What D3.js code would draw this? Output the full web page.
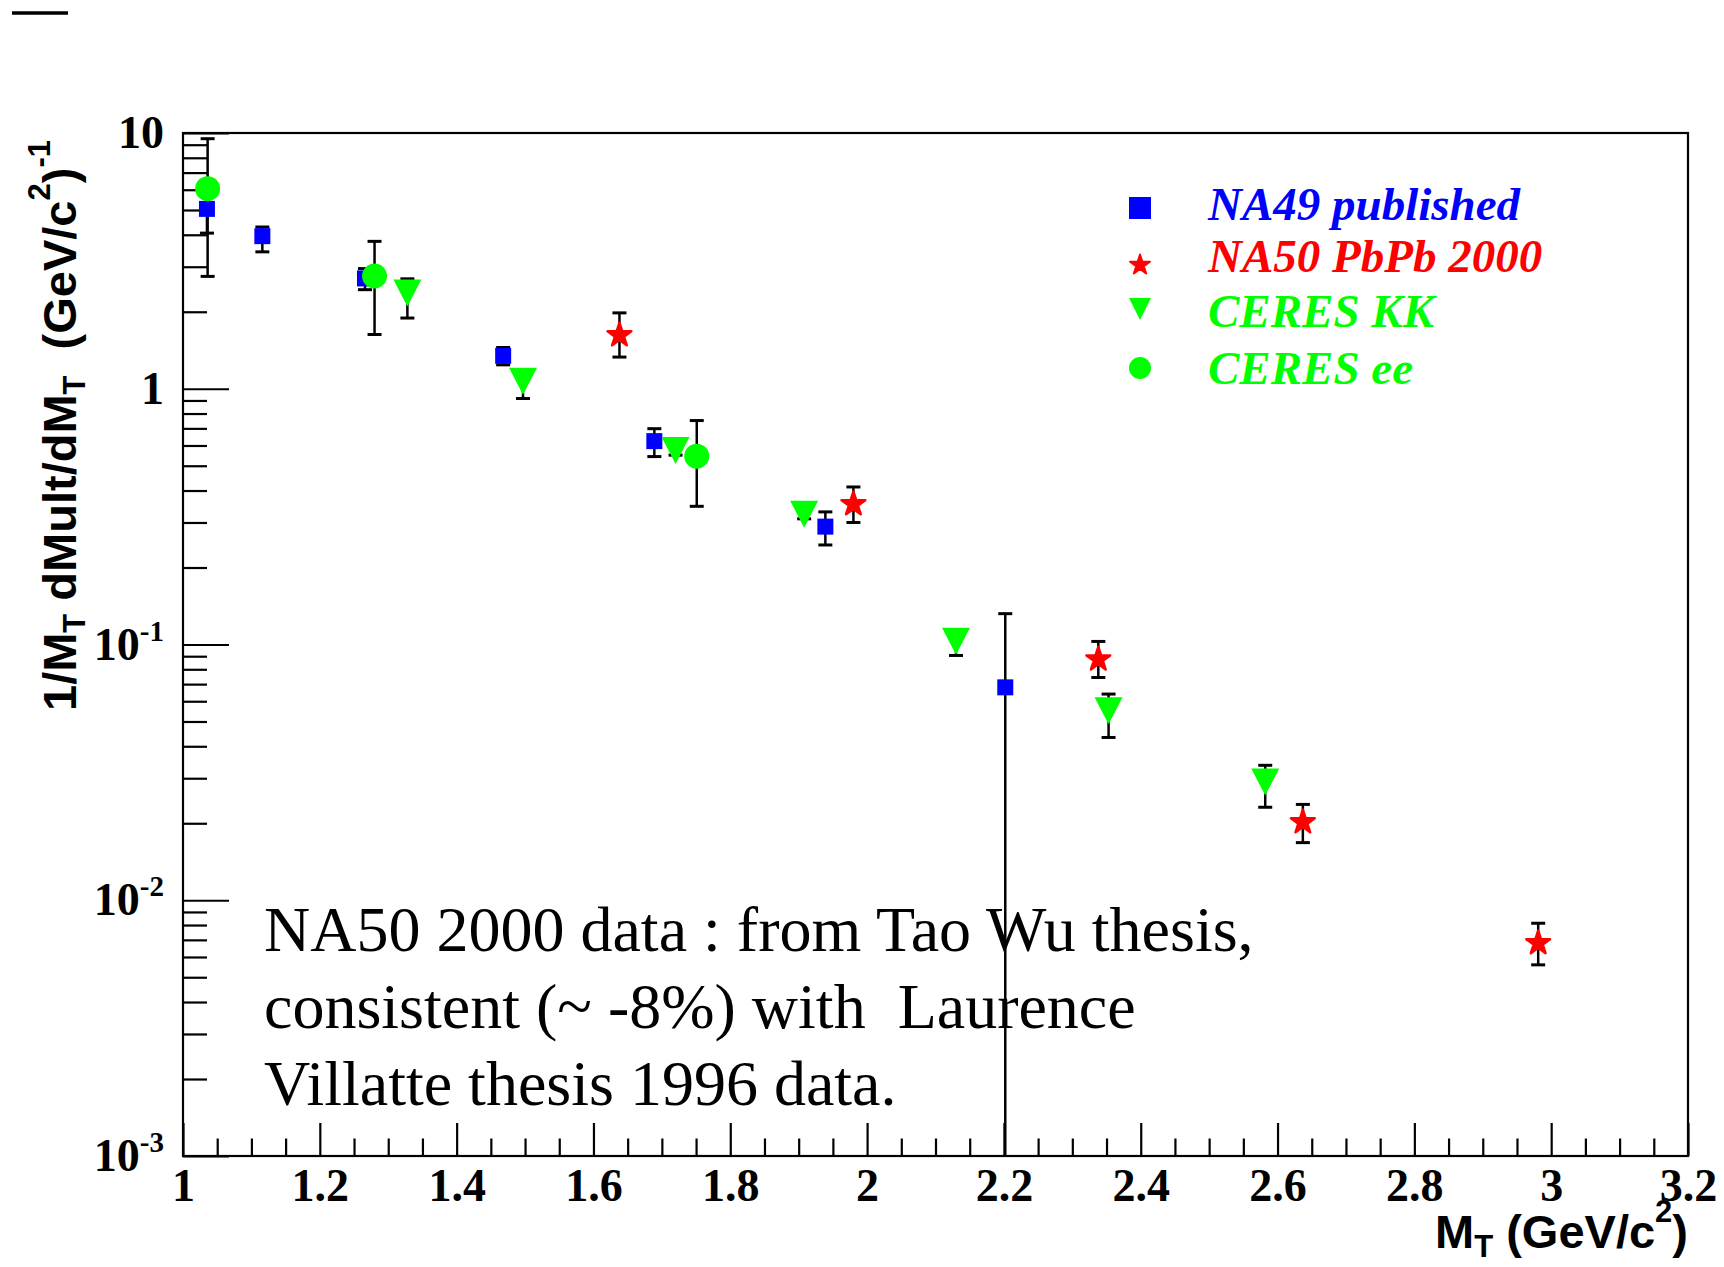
<!DOCTYPE html>
<html><head><meta charset="utf-8">
<script src="https://cdn.jsdelivr.net/npm/d3@7"></script>
<style>body{margin:0;background:#fff} svg{display:block} text{white-space:pre}</style>
</head><body>
<script>
// ---- data ----
const na49X  = [1.035, 1.116, 1.266, 1.468, 1.689, 1.939, 2.202];
const na49Y  = [5.05, 3.95, 2.70, 1.345, 0.624, 0.289, 0.068];
const na49Hi = [6.0, 4.29, 2.95, 1.45, 0.698, 0.330, 0.132];
const na49Lo = [4.06, 3.43, 2.44, 1.24, 0.543, 0.245, 0.0001];

const na50X  = [1.638, 1.980, 2.338, 2.637, 2.981];
const na50Y  = [1.62, 0.354, 0.0875, 0.0202, 0.0068];
const na50Hi = [1.98, 0.413, 0.1028, 0.0237, 0.00813];
const na50Lo = [1.33, 0.300, 0.0743, 0.0168, 0.00559];

const kkX  = [1.328, 1.497, 1.720, 1.908, 2.130, 2.353, 2.582];
const kkY  = [2.37, 1.07, 0.574, 0.323, 0.103, 0.0551, 0.0290];
const kkHi = [2.69, 1.15, 0.60, 0.335, 0.106, 0.0640, 0.0337];
const kkLo = [1.89, 0.916, 0.55, 0.31, 0.0906, 0.0433, 0.0231];

const eeX  = [1.036, 1.280, 1.751];
const eeY  = [6.06, 2.76, 0.545];
const eeHi = [9.5, 3.77, 0.751];
const eeLo = [2.75, 1.63, 0.347];

const xTickValues = [1, 1.2, 1.4, 1.6, 1.8, 2, 2.2, 2.4, 2.6, 2.8, 3, 3.2];
const xTickLabels = ["1","1.2","1.4","1.6","1.8","2","2.2","2.4","2.6","2.8","3","3.2"];
const yTickValues = [0.001, 0.01, 0.1, 1, 10];
const yTickBase   = ["10","10","10","1","10"];
const yTickExp    = ["-3","-2","-1","",""];

const legendLabels = ["NA49 published", "NA50 PbPb 2000", "CERES KK", "CERES ee"];
const noteLines = ["NA50 2000 data : from Tao Wu thesis,",
                   "consistent (~ -8%) with  Laurence",
                   "Villatte thesis 1996 data."];

// ---- drawing ----
const W = 1724, H = 1267;
const L = 183, R = 1688, T = 133, B = 1156;
const svg = d3.select("body").append("svg").attr("width", W).attr("height", H);

const x = d3.scaleLinear().domain([1, 3.2]).range([L, R]);
const y = d3.scaleLog().domain([0.001, 10]).range([B, T]);

const serif = "'Liberation Serif','Times New Roman',serif";
const sans = "'Liberation Sans',Arial,sans-serif";
const BLUE = "#0000ff", RED = "#ff0000", GREEN = "#00ff00";

// top-left stray mark
svg.append("line").attr("x1", 12).attr("x2", 68).attr("y1", 13).attr("y2", 13)
  .attr("stroke", "#000").attr("stroke-width", 3.5);

// axes ticks
const minorX = d3.range(1, 3.2001, 0.05).map(v => +v.toFixed(2))
  .filter(v => !xTickValues.some(t => Math.abs(t - v) < 1e-6));
const gxMin = svg.append("g").attr("transform", `translate(0,${B})`)
  .call(d3.axisBottom(x).tickValues(minorX).tickSize(-17.5).tickFormat(""));
const gxMaj = svg.append("g").attr("transform", `translate(0,${B})`)
  .call(d3.axisBottom(x).tickValues(xTickValues).tickSize(-33)
    .tickFormat((d, i) => xTickLabels[i]).tickPadding(0));
gxMaj.selectAll("text").attr("y", 45).attr("dy", 0)
  .attr("font-family", serif).attr("font-weight", "bold").attr("font-size", 46).attr("fill", "#000");

const minorY = [];
[0.001, 0.01, 0.1, 1].forEach(d => { for (let k = 2; k <= 9; k++) minorY.push(d * k); });
const gyMin = svg.append("g").attr("transform", `translate(${L},0)`)
  .call(d3.axisLeft(y).tickValues(minorY).tickSize(-24).tickFormat(""));
const gyMaj = svg.append("g").attr("transform", `translate(${L},0)`)
  .call(d3.axisLeft(y).tickValues(yTickValues).tickSize(-46).tickFormat(""));

[gxMin, gxMaj, gyMin, gyMaj].forEach(g => {
  g.select(".domain").remove();
  g.selectAll("line").attr("stroke", "#000").attr("stroke-width", 2.2);
});

// y tick labels with exponents
yTickValues.forEach((v, i) => {
  const t = svg.append("text").attr("x", L - 19).attr("y", y(v) + 15)
    .attr("text-anchor", "end").attr("font-family", serif)
    .attr("font-weight", "bold").attr("font-size", 46).attr("fill", "#000");
  t.append("tspan").text(yTickBase[i]);
  if (yTickExp[i]) t.append("tspan").attr("font-size", 29).attr("dy", -19).text(yTickExp[i]);
});

// frame
svg.append("rect").attr("x", L).attr("y", T).attr("width", R - L).attr("height", B - T)
  .attr("fill", "none").attr("stroke", "#000").attr("stroke-width", 2.2);

// axis titles
const xt = svg.append("text").attr("x", R).attr("y", 1248).attr("text-anchor", "end")
  .attr("font-family", sans).attr("font-weight", "bold").attr("font-size", 47).attr("fill", "#000");
xt.append("tspan").text("M");
xt.append("tspan").attr("font-size", 31).attr("dy", 9).text("T");
xt.append("tspan").attr("dy", -9).text(" (GeV/c");
xt.append("tspan").attr("font-size", 31).attr("dy", -26).text("2");
xt.append("tspan").attr("dy", 26).text(")");

const yt = svg.append("text").attr("transform", "translate(76,711) rotate(-90)")
  .attr("font-family", sans).attr("font-weight", "bold").attr("font-size", 47).attr("fill", "#000");
yt.append("tspan").text("1/M");
yt.append("tspan").attr("font-size", 31).attr("dy", 9).text("T");
yt.append("tspan").attr("dy", -9).text(" dMult/dM");
yt.append("tspan").attr("font-size", 31).attr("dy", 9).text("T");
yt.append("tspan").attr("dy", -9).text("  (GeV/c");
yt.append("tspan").attr("font-size", 31).attr("dy", -26).text("2");
yt.append("tspan").attr("dy", 26).text(")");
yt.append("tspan").attr("font-size", 31).attr("dy", -26).text("-1");

// annotation
noteLines.forEach((s, i) => {
  svg.append("text").attr("x", 264).attr("y", 951 + i * 77)
    .attr("font-family", serif).attr("font-size", 64).attr("fill", "#000").text(s);
});

// error bars
const clip = svg.append("clipPath").attr("id", "plotclip").append("rect")
  .attr("x", L).attr("y", T).attr("width", R - L).attr("height", B - T);
const gErr = svg.append("g").attr("clip-path", "url(#plotclip)");
function errBars(xs, lo, hi) {
  xs.forEach((xv, i) => {
    const cx = x(xv);
    gErr.append("line").attr("x1", cx).attr("x2", cx).attr("y1", y(hi[i])).attr("y2", y(lo[i]))
      .attr("stroke", "#000").attr("stroke-width", 2.5);
    [hi[i], lo[i]].forEach(v => {
      gErr.append("line").attr("x1", cx - 7).attr("x2", cx + 7).attr("y1", y(v)).attr("y2", y(v))
        .attr("stroke", "#000").attr("stroke-width", 3);
    });
  });
}
errBars(na49X, na49Lo, na49Hi);
errBars(na50X, na50Lo, na50Hi);
errBars(kkX, kkLo, kkHi);
errBars(eeX, eeLo, eeHi);

// marker shapes
const sqPath = s => d3.symbol(d3.symbolSquare, s * s)();
const starPath = r => d3.symbol(d3.symbolStar, r * r / 0.8908130915292852)();
const circPath = r => d3.symbol(d3.symbolCircle, Math.PI * r * r)();
const triPath = (w, h) => `M${-w/2},${-h/2}L${w/2},${-h/2}L0,${h/2}Z`;

const gM = svg.append("g");
function markers(xs, ys, d, color, sw) {
  xs.forEach((xv, i) => {
    gM.append("path").attr("d", d).attr("fill", color)
      .attr("stroke", color).attr("stroke-width", sw || 0).attr("stroke-linejoin", "round")
      .attr("transform", `translate(${x(xv)},${y(ys[i])})`);
  });
}
markers(na49X, na49Y, sqPath(16), BLUE);
markers(na50X, na50Y, starPath(12.5), RED, 2.5);
markers(kkX, kkY, triPath(28, 27), GREEN);
markers(eeX, eeY, circPath(12.5), GREEN);

// legend
const legColors = [BLUE, RED, GREEN, GREEN];
const legMarkY = [208, 265, 309, 368];
const legTextY = [220, 272, 327, 384];
const legShapes = [sqPath(22), starPath(10.5), triPath(22, 22), circPath(11)];
const legStroke = [0, 2, 0, 0];
legendLabels.forEach((lab, i) => {
  svg.append("path").attr("d", legShapes[i]).attr("fill", legColors[i])
    .attr("stroke", legColors[i]).attr("stroke-width", legStroke[i]).attr("stroke-linejoin", "round")
    .attr("transform", `translate(1140,${legMarkY[i]})`);
  svg.append("text").attr("x", 1208).attr("y", legTextY[i])
    .attr("font-family", serif).attr("font-weight", "bold").attr("font-style", "italic")
    .attr("font-size", 47).attr("fill", legColors[i]).text(lab);
});
</script>
</body></html>
